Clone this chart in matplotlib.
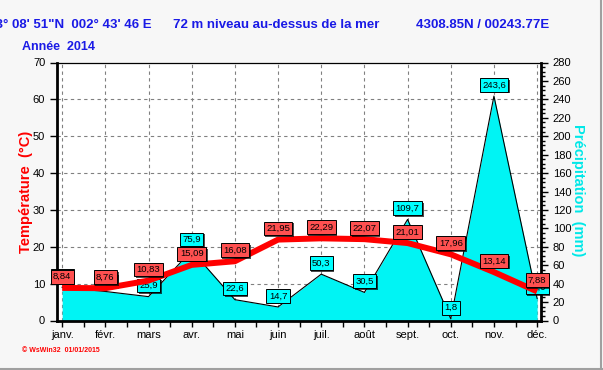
import matplotlib
matplotlib.use("Agg")
import matplotlib.pyplot as plt
import matplotlib.patheffects as pe
from matplotlib.ticker import MultipleLocator
from matplotlib.lines import Line2D

plt.rcParams['font.family'] = ['Liberation Sans', 'DejaVu Sans']

# --- data ---
months = ['janv.', 'févr.', 'mars', 'avr.', 'mai', 'juin',
          'juil.', 'août', 'sept.', 'oct.', 'nov.', 'déc.']
temp = [8.84, 8.76, 10.83, 15.09, 16.08, 21.95, 22.29, 22.07, 21.01, 17.96, 13.14, 7.88]
precip = [36.0, 31.5, 25.9, 75.9, 22.6, 14.7, 50.3, 30.5, 109.7, 1.8, 243.6, 24.0]
temp_ticks = [0, 10, 20, 30, 40, 50, 60, 70]
precip_ticks = list(range(0, 281, 20))

W, H = 603, 370
fig = plt.figure(figsize=(W / 100, H / 100), dpi=100, facecolor='#f7f7f7')
ax = fig.add_axes([57 / W, 1 - 320.5 / H, (541 - 57) / W, (320.5 - 62.5) / H])
ax.set_facecolor('white')
ax2 = ax.twinx()

x = list(range(len(months)))

# precipitation (drawn on the bottom axes, scale on the right)
ax.fill_between(x, precip, 0, color='#00f4f4', zorder=2, lw=0)
ax.plot(x, precip, color='black', lw=0.8, zorder=3)
ax.set_ylim(0, 280)
ax.set_xlim(-0.12, 11.09)
ax.yaxis.tick_right()
ax.set_yticks(precip_ticks)
ax.yaxis.set_minor_locator(MultipleLocator(5))
ax.set_xticks(x)
ax.set_xticklabels(months)
ax.xaxis.set_minor_locator(MultipleLocator(0.5))

# grid behind the fill
for t in temp_ticks[1:-1]:
    ax.axhline(t * 4, color='#808080', lw=0.8, dashes=(3, 3), zorder=1)
for xi in x:
    ax.axvline(xi, color='#808080', lw=0.8, dashes=(3, 3), zorder=1)

# temperature (on the twin, scale on the left)
ax2.plot(x, temp, color='#ff0000', lw=4.3, zorder=4, solid_capstyle='butt')
ax2.set_ylim(0, 70)
ax2.yaxis.tick_left()
ax2.set_yticks(temp_ticks)

for a in (ax, ax2):
    a.tick_params(labelsize=8, colors='black', direction='out')
ax.tick_params(axis='y', which='major', length=5, width=1)
ax.tick_params(axis='y', which='minor', length=3, width=1)
ax.tick_params(axis='x', which='both', length=4, width=1, pad=3)
ax2.tick_params(axis='y', length=5, width=1)

ax.spines['left'].set_visible(False)
ax.spines['right'].set_linewidth(2)
ax.spines['bottom'].set_linewidth(2)
ax.spines['top'].set_linewidth(0.9)
for s in ('right', 'top', 'bottom'):
    ax2.spines[s].set_visible(False)
ax2.spines['left'].set_linewidth(2)


def fmt(v):
    return ('%.1f' % v).replace('.', ',')


shadow = [pe.withSimplePatchShadow(offset=(1.2, -1.2), shadow_rgbFace='black', alpha=0.7)]

# precipitation labels (under temperature labels)
for xi, v in zip(x, precip):
    a = ax.annotate(fmt(v), (xi, v), xytext=(0, 8), textcoords='offset points',
                    ha='center', va='center', fontsize=6.8, zorder=5,
                    bbox=dict(boxstyle='square,pad=0.25', fc='#00ffff', ec='black', lw=0.7))
    a.get_bbox_patch().set_path_effects(shadow)

# temperature labels
for xi, v in zip(x, temp):
    a = ax2.annotate(('%.2f' % v).replace('.', ','), (xi, v), xytext=(0, 8),
                     textcoords='offset points', ha='center', va='center',
                     fontsize=6.8, zorder=6,
                     bbox=dict(boxstyle='square,pad=0.25', fc='#ff5050', ec='black', lw=0.7))
    a.get_bbox_patch().set_path_effects(shadow)

# header / labels
blue = '#1a1ae6'
fig.text(152 / W, 1 - 25 / H, '43° 08\' 51"N  002° 43\' 46 E', color=blue,
         fontsize=9.5, fontweight='bold', ha='right', va='center')
fig.text(173 / W, 1 - 25 / H, '72 m niveau au-dessus de la mer', color=blue,
         fontsize=9.5, fontweight='bold', ha='left', va='center')
fig.text(416 / W, 1 - 25 / H, '4308.85N / 00243.77E', color=blue,
         fontsize=9.5, fontweight='bold', ha='left', va='center')
fig.text(22 / W, 1 - 47 / H, 'Année  2014', color=blue,
         fontsize=9, fontweight='bold', ha='left', va='center')
fig.text(26 / W, 1 - 192 / H, 'Température  (°C)', color='#ff0000', rotation=90,
         fontsize=10.5, fontweight='bold', ha='center', va='center')
fig.text(578 / W, 1 - 190 / H, 'Précipitation  (mm)', color='#00e8e8', rotation=-90,
         fontsize=10.5, fontweight='bold', ha='center', va='center')
fig.text(22 / W, 1 - 350 / H, '© WsWin32  01/01/2015', color='#ff0000',
         fontsize=5, fontweight='bold', ha='left', va='center')

# window border
fig.add_artist(Line2D([0, 1], [1.5 / H, 1.5 / H], color='#a0a0a0', lw=1.5))
fig.add_artist(Line2D([1 - 2 / W, 1 - 2 / W], [0, 1], color='#a0a0a0', lw=1.5))

fig.savefig('out.png', dpi=100, facecolor=fig.get_facecolor())
